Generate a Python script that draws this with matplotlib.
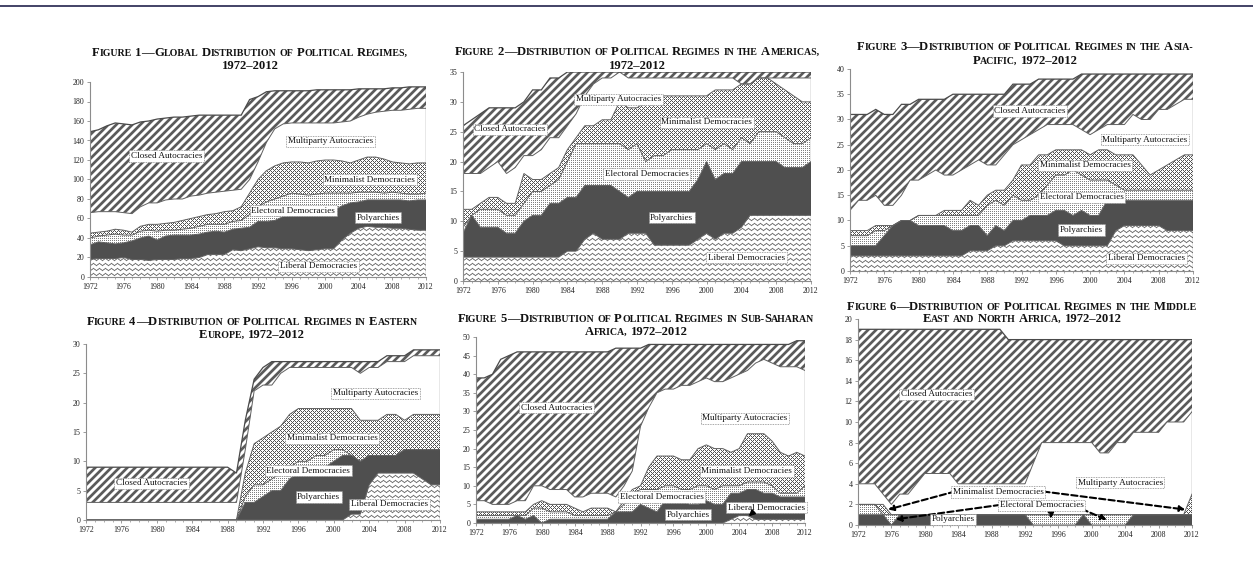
import numpy as np
import matplotlib
matplotlib.use("Agg")
import matplotlib.pyplot as plt
from matplotlib import font_manager as fm
from matplotlib.lines import Line2D
from matplotlib.ticker import MultipleLocator

# ---------------------------------------------------------------- data
years = np.arange(1972, 2013)

series_names = ["Liberal Democracies", "Polyarchies", "Electoral Democracies",
                "Minimalist Democracies", "Multiparty Autocracies", "Closed Autocracies"]

# Global
global_liberal = [18, 19, 19, 19, 20, 18, 18, 17, 18, 18, 18, 19, 19, 20, 23, 23, 23, 28, 27, 29, 31,
                  30, 30, 29, 29, 28, 27, 28, 29, 29, 38, 45, 50, 52, 51, 51, 50, 50, 49, 48, 48]
global_polyarchy = [15, 17, 16, 15, 15, 19, 22, 25, 20, 24, 25, 24, 24, 24, 23, 24, 23, 21, 23, 22, 26,
                    27, 28, 33, 34, 35, 37, 36, 36, 39, 35, 31, 27, 27, 28, 28, 29, 29, 29, 31, 31]
global_electoral = [7, 6, 8, 10, 8, 6, 7, 6, 9, 6, 5, 6, 7, 8, 8, 7, 8, 8, 8, 13, 15,
                    20, 22, 21, 23, 22, 20, 21, 21, 18, 13, 10, 10, 8, 8, 7, 8, 7, 7, 6, 7]
global_minimalist = [5, 4, 4, 5, 5, 3, 5, 6, 7, 7, 8, 9, 10, 10, 10, 11, 13, 11, 14, 22, 28,
                     32, 34, 34, 32, 33, 33, 34, 34, 34, 33, 31, 33, 36, 36, 35, 31, 31, 31, 32, 31]
global_multiparty = [21, 21, 20, 18, 18, 19, 20, 22, 22, 24, 24, 22, 23, 22, 22, 22, 21, 21, 18, 14, 18,
                     29, 38, 40, 40, 40, 41, 39, 38, 38, 40, 43, 44, 44, 46, 49, 53, 54, 56, 56, 56]
global_closed = [83, 84, 88, 91, 91, 91, 87, 84, 86, 84, 84, 84, 82, 82, 80, 79, 78, 77, 76, 82, 67,
                 52, 39, 34, 33, 33, 33, 34, 34, 34, 33, 32, 29, 26, 24, 23, 23, 23, 23, 22, 22]

# Americas
americas_liberal = [4, 4, 4, 4, 4, 4, 4, 4, 4, 4, 4, 4, 5, 5, 7, 8, 7, 7, 7, 8, 8,
                    8, 6, 6, 6, 6, 6, 7, 8, 7, 8, 8, 9, 11, 11, 11, 11, 11, 11, 11, 11]
americas_polyarchy = [4, 7, 5, 5, 5, 4, 4, 6, 7, 7, 9, 9, 9, 9, 9, 8, 9, 9, 8, 6, 7,
                      7, 9, 9, 9, 9, 9, 10, 12, 10, 10, 10, 11, 9, 9, 9, 9, 8, 8, 8, 9]
americas_electoral = [1, 0, 3, 3, 3, 3, 3, 3, 4, 4, 3, 4, 6, 9, 7, 7, 7, 7, 8, 8, 8,
                      5, 6, 6, 7, 7, 7, 5, 3, 5, 5, 4, 4, 3, 5, 5, 5, 5, 4, 4, 4]
americas_minimalist = [3, 1, 1, 2, 2, 2, 2, 5, 2, 2, 2, 2, 2, 1, 3, 3, 4, 4, 7, 7, 6,
                       10, 9, 10, 9, 9, 9, 9, 8, 10, 9, 10, 9, 10, 9, 9, 8, 8, 8, 7, 6]
americas_multiparty = [6, 6, 5, 5, 6, 5, 6, 3, 4, 5, 6, 5, 4, 4, 5, 7, 7, 7, 5, 5, 5,
                       4, 4, 3, 3, 3, 3, 3, 3, 2, 2, 2, 0, 0, 0, 0, 1, 2, 3, 4, 4]
americas_closed = [8, 9, 10, 10, 9, 11, 10, 9, 11, 10, 10, 10, 9, 7, 4, 2, 1, 1, 0, 1, 1,
                   1, 1, 1, 1, 1, 1, 1, 1, 1, 1, 1, 2, 2, 1, 1, 1, 1, 1, 1, 1]

# Asia-Pacific
asia_liberal = [3, 3, 3, 3, 3, 3, 3, 3, 3, 3, 3, 3, 3, 3, 4, 4, 4, 5, 5, 6, 6,
                6, 6, 6, 6, 5, 5, 5, 5, 5, 5, 8, 9, 9, 9, 9, 9, 8, 8, 8, 8]
asia_polyarchy = [2, 2, 2, 2, 4, 6, 7, 7, 6, 6, 6, 6, 5, 5, 5, 5, 3, 4, 3, 4, 4,
                  5, 5, 5, 6, 7, 6, 7, 6, 6, 9, 6, 5, 5, 5, 5, 5, 6, 6, 6, 6]
asia_electoral = [2, 2, 2, 3, 1, 0, 0, 0, 2, 2, 2, 2, 3, 3, 2, 2, 6, 5, 5, 5, 4,
                  3, 4, 6, 7, 7, 9, 7, 7, 7, 4, 3, 2, 2, 2, 2, 2, 2, 2, 2, 2]
asia_minimalist = [1, 1, 1, 1, 1, 0, 0, 0, 0, 0, 0, 1, 1, 1, 3, 2, 2, 2, 3, 3, 7,
                   7, 8, 6, 5, 5, 4, 5, 5, 6, 6, 6, 7, 7, 5, 3, 4, 5, 6, 7, 7]
asia_multiparty = [4, 6, 6, 6, 4, 4, 5, 8, 7, 8, 9, 7, 7, 8, 7, 9, 6, 5, 7, 7, 5,
                   6, 5, 6, 5, 5, 5, 4, 4, 4, 5, 6, 6, 8, 9, 11, 12, 11, 11, 11, 11]
asia_closed = [19, 17, 17, 17, 18, 18, 18, 15, 16, 15, 14, 15, 16, 15, 14, 13, 14, 14, 12, 12, 11,
               10, 10, 9, 9, 9, 9, 11, 12, 11, 10, 10, 10, 8, 9, 9, 7, 7, 6, 5, 5]

# Eastern Europe
europe_liberal = [0, 0, 0, 0, 0, 0, 0, 0, 0, 0, 0, 0, 0, 0, 0, 0, 0, 0, 0, 0, 0,
                  0, 0, 0, 0, 0, 0, 0, 0, 0, 1, 1, 6, 8, 8, 8, 8, 8, 7, 6, 6]
europe_polyarchy = [0, 0, 0, 0, 0, 0, 0, 0, 0, 0, 0, 0, 0, 0, 0, 0, 0, 0, 3, 3, 4,
                    5, 5, 7, 8, 8, 9, 9, 10, 11, 10, 9, 5, 3, 3, 3, 4, 4, 5, 6, 6]
europe_electoral = [0, 0, 0, 0, 0, 0, 0, 0, 0, 0, 0, 0, 0, 0, 0, 0, 0, 0, 1, 3, 2,
                    2, 3, 2, 2, 2, 2, 2, 2, 1, 0, 0, 0, 0, 0, 0, 0, 0, 0, 0, 0]
europe_minimalist = [0, 0, 0, 0, 0, 0, 0, 0, 0, 0, 0, 0, 0, 0, 0, 0, 0, 0, 4, 7, 8,
                     8, 8, 9, 9, 9, 8, 8, 7, 7, 8, 7, 6, 6, 7, 7, 5, 6, 6, 6, 6]
europe_multiparty = [3, 3, 3, 3, 3, 3, 3, 3, 3, 3, 3, 3, 3, 3, 3, 3, 3, 3, 4, 9, 9,
                     8, 9, 8, 7, 7, 7, 7, 7, 7, 7, 8, 9, 9, 9, 9, 10, 10, 10, 10, 10]
europe_closed = [6, 6, 6, 6, 6, 6, 6, 6, 6, 6, 6, 6, 6, 6, 6, 6, 6, 5, 5, 2, 3,
                 4, 2, 1, 1, 1, 1, 1, 1, 1, 1, 2, 1, 1, 1, 1, 1, 1, 1, 1, 1]

# Sub-Saharan Africa
africa_liberal = [0, 0, 0, 0, 0, 0, 0, 0, 0, 0, 0, 0, 0, 0, 0, 0, 0, 0, 0, 0, 0,
                  0, 0, 0, 0, 0, 0, 0, 0, 0, 0, 1, 2, 2, 1, 1, 1, 1, 1, 1, 1]
africa_polyarchy = [1, 1, 1, 1, 1, 2, 1, 2, 0, 1, 1, 1, 1, 1, 1, 1, 1, 3, 3, 3, 5,
                    4, 3, 6, 6, 6, 5, 5, 6, 5, 5, 7, 6, 7, 8, 7, 7, 6, 6, 6, 6]
africa_electoral = [1, 1, 1, 1, 1, 0, 1, 2, 4, 2, 2, 2, 1, 1, 1, 1, 1, 0, 2, 5, 4,
                    5, 6, 4, 4, 3, 4, 5, 4, 4, 5, 2, 2, 2, 2, 3, 2, 1, 1, 1, 3]
africa_minimalist = [1, 1, 1, 1, 1, 1, 1, 1, 2, 2, 2, 2, 2, 1, 2, 2, 2, 0, 1, 1, 1,
                     6, 9, 8, 8, 8, 8, 10, 11, 11, 10, 9, 10, 13, 13, 13, 12, 11, 10, 11, 8]
africa_multiparty = [3, 3, 2, 2, 2, 3, 3, 5, 4, 4, 4, 4, 3, 4, 4, 4, 4, 4, 4, 5, 16,
                     16, 17, 18, 18, 20, 20, 18, 18, 18, 18, 20, 20, 17, 19, 20, 21, 23, 24, 23, 23]
africa_closed = [33, 33, 35, 39, 40, 40, 40, 36, 36, 37, 37, 37, 39, 39, 38, 38, 38, 40, 37, 33, 21,
                 17, 13, 12, 12, 11, 11, 10, 9, 10, 10, 9, 8, 7, 5, 4, 5, 6, 6, 7, 8]

# Middle East and North Africa
mena_liberal = [0, 0, 0, 0, 0, 0, 0, 0, 0, 0, 0, 0, 0, 0, 0, 0, 0, 0, 0, 0, 0,
                0, 0, 0, 0, 0, 0, 0, 0, 0, 0, 0, 0, 0, 0, 0, 0, 0, 0, 0, 0]
mena_polyarchy = [1, 1, 1, 1, 0, 1, 1, 1, 1, 1, 1, 1, 1, 1, 1, 1, 1, 1, 1, 1, 1,
                  0, 0, 0, 0, 0, 0, 1, 0, 0, 0, 0, 0, 1, 1, 1, 1, 1, 1, 1, 1]
mena_electoral = [1, 1, 1, 0, 1, 0, 0, 0, 0, 0, 0, 0, 0, 0, 0, 0, 0, 0, 0, 0, 0,
                  1, 1, 1, 1, 1, 1, 0, 1, 1, 1, 1, 1, 0, 0, 0, 0, 0, 0, 0, 0]
mena_minimalist = [0, 0, 0, 1, 0, 0, 0, 0, 0, 0, 0, 0, 0, 0, 0, 0, 0, 0, 0, 0, 0,
                   0, 0, 0, 0, 0, 0, 0, 0, 0, 0, 0, 0, 0, 0, 0, 0, 0, 0, 0, 2]
mena_multiparty = [2, 2, 2, 1, 1, 2, 2, 3, 4, 4, 4, 4, 3, 3, 3, 3, 3, 3, 3, 3, 3,
                   5, 7, 7, 7, 7, 7, 7, 7, 6, 6, 7, 7, 8, 8, 8, 8, 9, 9, 9, 8]
mena_closed = [15, 15, 15, 16, 17, 16, 16, 15, 14, 14, 14, 14, 15, 15, 15, 15, 15, 15, 14, 14, 14,
               12, 10, 10, 10, 10, 10, 10, 10, 11, 11, 10, 10, 9, 9, 9, 9, 8, 8, 8, 7]

titles = [
    ("Figure 1\u2014Global Distribution of Political Regimes,", "1972\u20132012"),
    ("Figure 2\u2014Distribution of Political Regimes in the Americas,", "1972\u20132012"),
    ("Figure 3\u2014Distribution of Political Regimes in the Asia-", "Pacific, 1972\u20132012"),
    ("Figure 4\u2014Distribution of Political Regimes in Eastern", "Europe, 1972\u20132012"),
    ("Figure 5\u2014Distribution of Political Regimes in Sub-Saharan", "Africa, 1972\u20132012"),
    ("Figure 6\u2014Distribution of Political Regimes in the Middle", "East and North Africa, 1972\u20132012"),
]
y_max = [200, 35, 40, 30, 50, 20]
y_step = [20, 5, 5, 5, 5, 2]

# ---------------------------------------------------------------- layout
W_PX, H_PX, DPI = 1253, 563, 100
SERIF = "Liberation Serif"
fig = plt.figure(figsize=(W_PX / DPI, H_PX / DPI), dpi=DPI)
fig.patch.set_facecolor("white")

# axes boxes in pixels: left, top, right, bottom
boxes = [(90, 82, 426, 277), (463, 72, 811, 281), (850, 69, 1193, 271),
         (86, 344, 440, 520), (476, 337, 805, 523), (858, 319, 1192, 525)]
title_pos = [(250, 56, 69), (637, 55, 69), (1025, 50, 64),
             (252, 325, 338), (636, 322, 335), (1022, 310, 322)]

# label placements (year, value) per panel, in series order
label_pos = [
    [(1999.2, 11), (2006.3, 61), (1996.2, 68), (2005.3, 100), (2000.6, 139), (1981.1, 124)],
    [(2004.6, 3.9), (1996.0, 10.6), (1993.1, 17.9), (2000.0, 26.6), (1989.9, 30.4), (1977.4, 25.4)],
    [(2006.6, 2.5), (1999.0, 8.1), (1999.0, 14.6), (1999.4, 20.9), (2006.4, 26.0), (1993.0, 31.7)],
    [(2006.3, 2.7), (1998.3, 3.9), (1997.1, 8.4), (1999.8, 13.9), (2004.7, 21.6), (1979.4, 6.25)],
    [(2007.3, 4.1), (1997.8, 2.2), (1994.6, 7.0), (2004.9, 14.0), (2004.7, 28.1), (1981.8, 31.0)],
    [None, (1983.4, 0.55), (1994.0, 1.9), (1988.8, 3.2), (2003.4, 4.1), (1981.4, 12.7)],
]


# ---------------------------------------------------------------- textures
def texture(kind, w, h):
    yy, xx = np.mgrid[0:h, 0:w].astype(float)
    g = np.ones((h, w))
    if kind == "stripes":
        period, frac = 8.0, 0.48
        d = np.abs(((xx + yy) % period) - period / 2)
        cov = np.clip(frac * period / 2 - d + 0.5, 0, 1)
        g = 1 - cov * (1 - 0.36)
    elif kind == "fine_dots":
        dots = ((xx % 2) == 0) & ((yy % 2) == 0)
        g = np.where(dots, 0.5, 1.0)
    elif kind == "lattice":
        m = (((xx + yy) % 4) == 0) | (((xx - yy) % 4) == 0)
        g = np.where(m, 0.33, 1.0)
    elif kind == "zigzag":
        z = np.abs((xx % 6) - 3) * (2.0 / 3.0)
        v = yy % 5
        cov = np.clip(1.1 - np.abs(v - z - 1), 0, 1)
        g = 1 - cov * 0.55
    elif kind == "solid":
        g = np.full((h, w), 0.31)
    return np.dstack([g, g, g])


kinds = ["zigzag", "solid", "fine_dots", "lattice", "white", "stripes"]

# ---------------------------------------------------------------- small-caps titles
renderer = fig.canvas.get_renderer()
EM_DASH = "\u2014"


def ink_width(s, fs):
    prop = fm.FontProperties(family=SERIF, weight="bold", size=fs)
    return renderer.get_text_width_height_descent(s, prop, ismath=False)[0]


def advance(s, fs):
    if s == EM_DASH:
        return fs * DPI / 72.0          # the em dash is one em wide
    # pen advance of s, bracketed by bars so side bearings cancel out
    return ink_width("|" + s + "|", fs) - ink_width("||", fs)


def smallcaps_line(text, xc_px, base_px, size):
    tokens = []
    for ch in text:
        if ch in (" ", EM_DASH):
            tokens.append((ch, size))
            continue
        if ch in ",-" and tokens and tokens[-1][0] not in (" ", EM_DASH):
            # punctuation rides along with the preceding run
            tokens[-1] = (tokens[-1][0] + ch, tokens[-1][1])
            continue
        fs = size * 0.78 if ch.islower() else size
        c = ch.upper()
        if tokens and tokens[-1][0] not in (" ", EM_DASH) and tokens[-1][1] == fs:
            tokens[-1] = (tokens[-1][0] + c, fs)
        else:
            tokens.append((c, fs))
    placed, pen = [], 0.0
    for s, fs in tokens:
        if s == " ":
            pen += advance(" ", fs)
            continue
        placed.append((s, fs, pen))
        pen += advance(s, fs)
    x0 = xc_px - pen / 2
    for s, fs, dx in placed:
        fig.text((x0 + dx) / W_PX, 1 - base_px / H_PX, s, fontsize=fs, fontweight="bold",
                 family=SERIF, ha="left", va="baseline", color="#111111")


region_series = [
    [global_liberal, global_polyarchy, global_electoral, global_minimalist, global_multiparty, global_closed],
    [americas_liberal, americas_polyarchy, americas_electoral, americas_minimalist, americas_multiparty, americas_closed],
    [asia_liberal, asia_polyarchy, asia_electoral, asia_minimalist, asia_multiparty, asia_closed],
    [europe_liberal, europe_polyarchy, europe_electoral, europe_minimalist, europe_multiparty, europe_closed],
    [africa_liberal, africa_polyarchy, africa_electoral, africa_minimalist, africa_multiparty, africa_closed],
    [mena_liberal, mena_polyarchy, mena_electoral, mena_minimalist, mena_multiparty, mena_closed],
]

label_box = dict(boxstyle="square,pad=0.18", fc="white", ec="#8a8a8a", lw=0.6, ls=(0, (1, 1)))

axes = []
for i, (series, box) in enumerate(zip(region_series, boxes)):
    l, t, r, b = box
    ax = fig.add_axes([l / W_PX, 1 - b / H_PX, (r - l) / W_PX, (b - t) / H_PX])
    axes.append(ax)
    w_px, h_px = r - l, b - t
    extent = (years[0], years[-1], 0, y_max[i])

    lower = np.zeros(len(years))
    tops = []
    for k, vals in enumerate(series):
        upper = lower + np.asarray(vals, dtype=float)
        poly = ax.fill_between(years, lower, upper, facecolor="white",
                               edgecolor="none", linewidth=0, zorder=1)
        if kinds[k] != "white":
            im = ax.imshow(texture(kinds[k], w_px, h_px), extent=extent, aspect="auto",
                           interpolation="nearest", origin="upper", zorder=2)
            im.set_clip_path(poly.get_paths()[0], transform=ax.transData)
        tops.append(upper)
        lower = upper
    for k, top in enumerate(tops):
        ax.plot(years, top, color="#4a4a4a" if k == 5 else "#606060",
                lw=0.9 if k == 5 else 0.7, zorder=3, solid_joinstyle="miter")
    ax.plot([years[-1], years[-1]], [0, tops[-1][-1]], color="#4a4a4a", lw=0.9, zorder=3)

    ax.set_xlim(years[0], years[-1])
    ax.set_ylim(0, y_max[i])
    ax.xaxis.set_major_locator(MultipleLocator(4))
    ax.xaxis.set_minor_locator(MultipleLocator(1))
    ax.yaxis.set_major_locator(MultipleLocator(y_step[i]))
    for side in ("top", "right"):
        ax.spines[side].set_visible(False)
    for side in ("left", "bottom"):
        ax.spines[side].set_color("#8c8c8c")
        ax.spines[side].set_linewidth(0.8)
        ax.spines[side].set_zorder(4)
    ax.tick_params(axis="both", which="major", length=2.5, width=0.6, color="#8c8c8c",
                   labelsize=5.7, pad=1.5, labelcolor="#222222")
    ax.tick_params(axis="x", which="minor", length=1.6, width=0.5, color="#8c8c8c")
    for lab in ax.get_xticklabels() + ax.get_yticklabels():
        lab.set_family(SERIF)
    ax.patch.set_alpha(0)

    for k, pos in enumerate(label_pos[i]):
        if pos is None:
            continue
        ax.text(pos[0], pos[1], series_names[k], ha="center", va="center", fontsize=6.6,
                family=SERIF, color="#111111", bbox=label_box, zorder=6)

    l1, l2 = titles[i]
    xc, b1, b2 = title_pos[i]
    smallcaps_line(l1, xc, b1, 9.1)
    smallcaps_line(l2, xc, b2, 9.1)

# Arrow pointing at the thin liberal-democracy sliver in Africa
axes[4].annotate("", xy=(2004.9, 1.3), xytext=(2005.9, 3.3),
                 arrowprops=dict(arrowstyle="-|>", color="black", lw=1.4, mutation_scale=8),
                 zorder=7)

# Dashed pointers for the tiny bands in the Middle East panel
dash_arrow = dict(arrowstyle="-|>", color="black", lw=1.5, linestyle=(0, (3, 1.5)),
                  mutation_scale=8, shrinkA=0, shrinkB=0)
ax6 = axes[5]
for start, end in [((1983.6, 3.25), (1975.6, 1.5)), ((1994.2, 3.25), (2011.2, 1.5)),
                   ((1989.0, 1.95), (1976.5, 0.55)), ((1995.1, 1.55), (1995.1, 0.6)),
                   ((1998.8, 1.55), (2001.8, 0.5))]:
    ax6.annotate("", xy=end, xytext=start, arrowprops=dash_arrow, zorder=5)

# Rule across the top of the page
fig.add_artist(Line2D([0, 1], [1 - 5.5 / H_PX] * 2, transform=fig.transFigure,
                      color="#34345a", lw=1.3))

fig.savefig("out.png", dpi=DPI, facecolor="white")
